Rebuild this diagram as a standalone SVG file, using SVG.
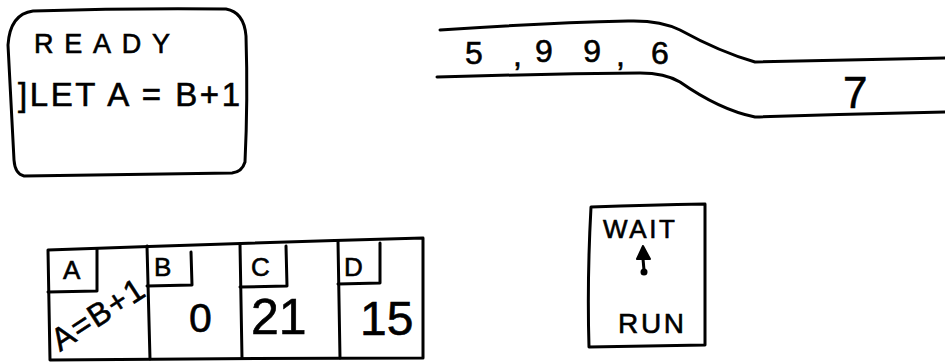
<svg xmlns="http://www.w3.org/2000/svg" width="945" height="362" viewBox="0 0 945 362">
<style>
.ln{fill:none;stroke:#000;stroke-width:3;stroke-linecap:round;stroke-linejoin:round}
.tx{font-family:"Liberation Sans","DejaVu Sans",Arial,sans-serif;fill:#000;stroke:#000;stroke-width:0.6}
</style>
<rect width="945" height="362" fill="#fff"/>
<g id="terminal">
<path class="ln" d="M33,11 Q130,8 226,9 Q244,12 246,36 Q248,100 245,162 Q242,172 232,173 L24,176 Q15,174 14,160 Q11,100 8,45 Q10,14 33,11 Z"/>
<text class="tx" x="34" y="53" font-size="27" textLength="136" lengthAdjust="spacing">READY</text>
<text class="tx" x="18" y="106" font-size="33" textLength="222" lengthAdjust="spacing">]LET A = B+1</text>
</g>
<g id="tape">
<path class="ln" d="M440,30 Q540,23 628,21 Q660,20 680,30 Q720,52 755,62 Q850,60 945,58"/>
<path class="ln" d="M437,77 Q540,74 640,73 Q665,73 680,82 Q720,110 755,117 Q850,114 945,112"/>
<text class="tx" x="465" y="64" font-size="32">5</text>
<text class="tx" x="513" y="66" font-size="32">,</text>
<text class="tx" x="535" y="62" font-size="32" textLength="66" lengthAdjust="spacing">99</text>
<text class="tx" x="616" y="66" font-size="32">,</text>
<text class="tx" x="651" y="64" font-size="32">6</text>
<text class="tx" x="843" y="108" font-size="44">7</text>
</g>
<g id="registers">
<path class="ln" d="M48,250 Q240,243 423,238 L423,358 Q240,358 50,360 Z"/>
<g id="regA">
<path class="ln" d="M48,292 L97,291 L97,249"/>
<text class="tx" x="63" y="279" font-size="26">A</text>
<text class="tx" x="60" y="352" font-size="32" transform="rotate(-33 60 352)" textLength="104" lengthAdjust="spacing">A=B+1</text>
</g>
<g id="regB">
<path class="ln" d="M147,246 L150,359"/>
<path class="ln" d="M147,286 L192,285 L191,252"/>
<text class="tx" x="154" y="276" font-size="26">B</text>
<text class="tx" x="189" y="332" font-size="41">0</text>
</g>
<g id="regC">
<path class="ln" d="M240,244 L242,358"/>
<path class="ln" d="M240,287 L287,286 L286,246"/>
<text class="tx" x="251" y="276" font-size="26">C</text>
<text class="tx" x="251" y="334" font-size="50">21</text>
</g>
<g id="regD">
<path class="ln" d="M338,241 L340,358"/>
<path class="ln" d="M338,284 L380,283 L380,243"/>
<text class="tx" x="344" y="276" font-size="26">D</text>
<text class="tx" x="360" y="335" font-size="48">15</text>
</g>
</g>
<g id="switch">
<path class="ln" d="M591,207 Q650,205 705,204 L705,345 Q650,346 589,347 Q587,280 591,207 Z"/>
<text class="tx" x="603" y="238" font-size="26" textLength="72" lengthAdjust="spacing">WAIT</text>
<path d="M643,246 L637,259 L650,259 Z" fill="#000" stroke="#000" stroke-width="2" stroke-linejoin="round"/>
<path class="ln" d="M643,259 L644,270"/>
<circle cx="644" cy="272" r="3.5" fill="#000"/>
<text class="tx" x="618" y="333" font-size="28" textLength="66" lengthAdjust="spacing">RUN</text>
</g>
<g id="connectors"/>
</svg>
